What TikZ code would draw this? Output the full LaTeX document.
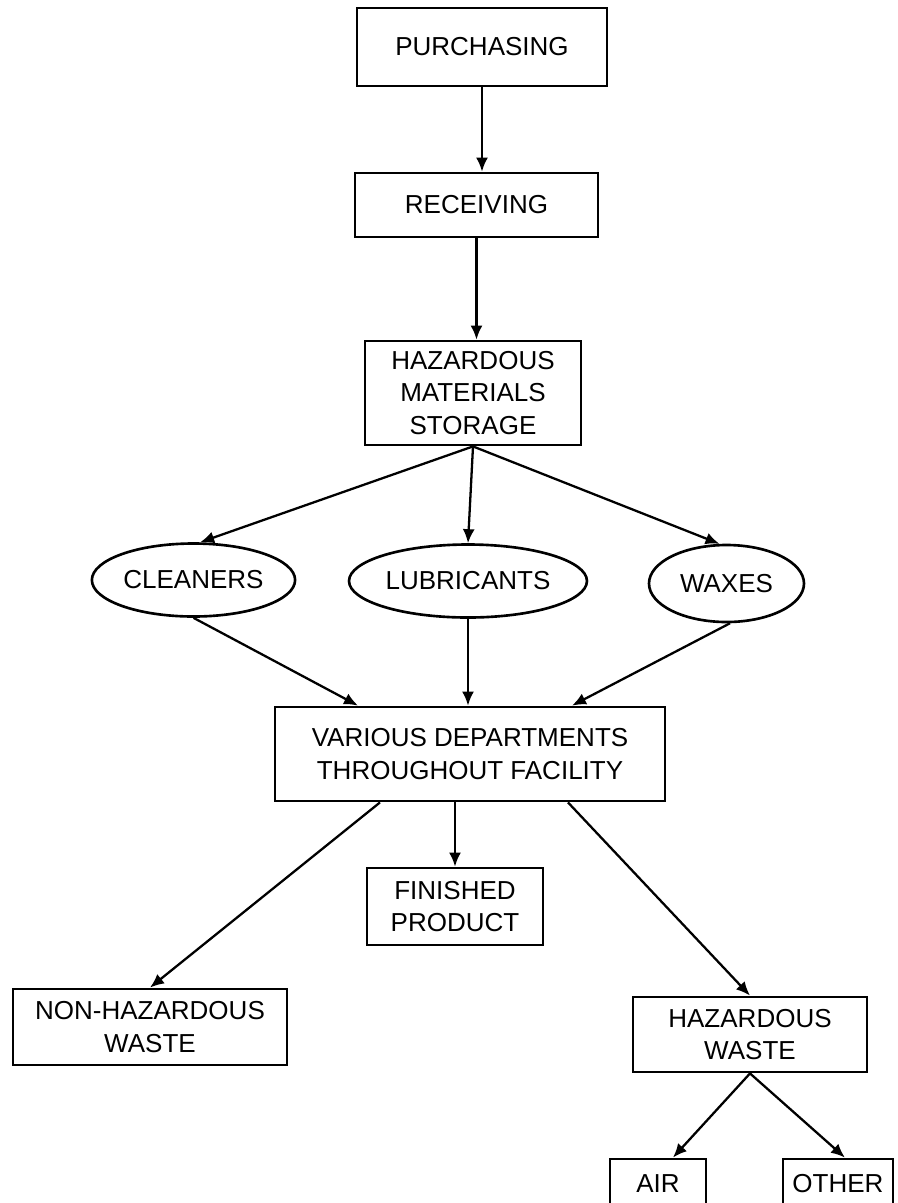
\documentclass[tikz,border=0pt]{standalone}
\usepackage{fontspec}
\setmainfont{Liberation Sans}
\usetikzlibrary{
    arrows.meta,
    positioning,
    shapes.geometric
}
\newcommand{\flowfont}{\fontsize{14.8}{18.5}\selectfont}
\tikzset{
  block/.style = {draw, line width=1.6pt, align=center, font=\flowfont,
                  inner sep=2pt},
  oval/.style  = {draw, ellipse, line width=1.5pt, align=center,
                  font=\flowfont, inner sep=1pt},
  arr/.style   = {-{Latex[length=2.8mm,width=2.4mm]}, line width=1.3pt}
}

\begin{document}
\begin{tikzpicture}
    \clip (0,0) rectangle (17.94,-24.06);

    \node[block, minimum width=5.00cm, minimum height=1.56cm] (purch) at (9.64, -0.94) {PURCHASING};
    \node[block, minimum width=4.86cm, minimum height=1.28cm] (recv) at (9.53, -4.10) {RECEIVING};
    \node[block, minimum width=4.32cm, minimum height=2.08cm] (hms) at (9.46, -7.86) {HAZARDOUS\\MATERIALS\\STORAGE};

    \node[oval, minimum width=3.54cm, minimum height=1.46cm] (clean) at (3.87, -11.60) {CLEANERS};
    \node[oval, minimum width=4.28cm, minimum height=1.46cm] (lubr) at (9.36, -11.62) {LUBRICANTS};
    \node[oval, minimum width=3.10cm, minimum height=1.54cm] (wax) at (14.53, -11.67) {WAXES};

    \node[block, minimum width=7.80cm, minimum height=1.88cm] (various) at (9.40, -15.08) {VARIOUS DEPARTMENTS\\THROUGHOUT FACILITY};
    \node[block, minimum width=3.52cm, minimum height=1.54cm] (fin) at (9.10, -18.13) {FINISHED\\PRODUCT};
    \node[block, minimum width=5.48cm, minimum height=1.52cm] (nonhaz) at (3.00, -20.54) {NON-HAZARDOUS\\WASTE};
    \node[block, minimum width=4.68cm, minimum height=1.50cm] (hazw) at (15.00, -20.69) {HAZARDOUS\\WASTE};
    \node[block, minimum width=1.92cm, minimum height=0.98cm] (air) at (13.16, -23.67) {AIR};
    \node[block, minimum width=2.20cm, minimum height=0.98cm] (other) at (16.76, -23.67) {OTHER};

    \draw[arr] (purch.south) -- (purch.south |- recv.north);
    \draw[arr] (recv.south) -- (recv.south |- hms.north);

    \draw[arr] (hms.south) -- (clean.80);
    \draw[arr] (hms.south) -- (lubr.north);
    \draw[arr] (hms.south) -- (wax.100);

    \draw[arr] (clean.south) -- ([xshift=-2.24cm]various.north);
    \draw[arr] (lubr.south) -- (lubr.south |- various.north);
    \draw[arr] (wax.-85) -- ([xshift=2.04cm]various.north);

    \draw[arr] ([xshift=-1.80cm]various.south) -- (nonhaz.north);
    \draw[arr] (various.south -| fin.north) -- (fin.north);
    \draw[arr] ([xshift=1.96cm]various.south) -- (hazw.north);

    \draw[arr] (hazw.south) -- (air.60);
    \draw[arr] (hazw.south) -- (other.75);
\end{tikzpicture}
\end{document}
